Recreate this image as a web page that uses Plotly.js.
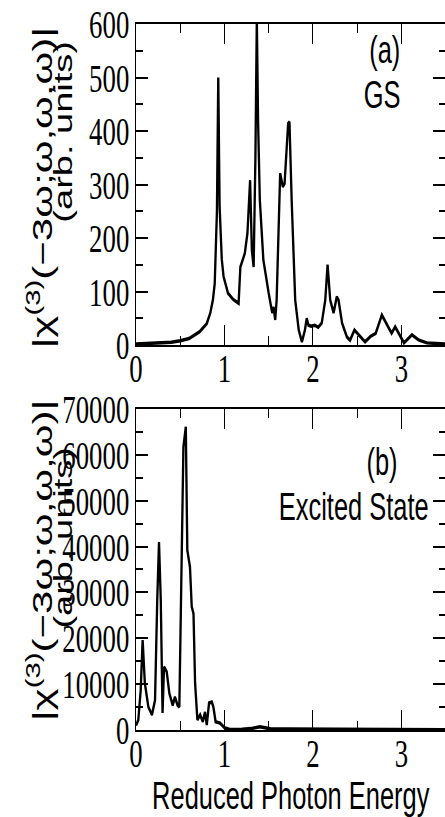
<!DOCTYPE html>
<html>
<head>
<meta charset="utf-8">
<script src="https://cdn.plot.ly/plotly-3.0.1.min.js"></script>
<style>
  html, body { margin: 0; padding: 0; background: #fff; width: 445px; height: 817px; overflow: hidden; }
  #wrap { width: 673px; height: 817px; transform: scaleX(0.67); transform-origin: 0 0; }
</style>
</head>
<body>
<div id="wrap"><div id="chart"></div></div>
<script>
// (a) Ground state
const xGS = [0, 0.2, 0.4, 0.5, 0.6, 0.72, 0.8, 0.84, 0.87, 0.89, 0.915, 0.93, 0.945, 0.97, 0.99, 1.04, 1.10, 1.16, 1.18, 1.23, 1.26, 1.29, 1.31, 1.33, 1.35, 1.366, 1.38, 1.40, 1.44, 1.50, 1.54, 1.555, 1.574, 1.59, 1.61, 1.63, 1.66, 1.68, 1.72, 1.735, 1.76, 1.80, 1.84, 1.876, 1.91, 1.93, 1.95, 1.98, 2.02, 2.06, 2.10, 2.14, 2.166, 2.196, 2.234, 2.27, 2.29, 2.33, 2.385, 2.42, 2.47, 2.52, 2.59, 2.65, 2.71, 2.78, 2.86, 2.89, 2.93, 2.97, 3.03, 3.12, 3.20, 3.29, 3.40, 3.5];
const yGS = [2, 3, 5, 8, 12, 25, 40, 60, 85, 115, 250, 500, 260, 160, 128, 97, 85, 78, 146, 171, 209, 308, 177, 146, 350, 610, 420, 271, 159, 97, 60, 71, 47, 84, 200, 321, 296, 302, 414, 417, 271, 84, 28, 6, 28, 50, 37, 35, 37, 33, 41, 84, 150, 84, 60, 90, 84, 41, 15, 9, 28, 19, 6, 16, 22, 56, 32, 22, 34, 22, 4, 19, 9, 4, 3, 2];

// (b) Excited state
const xEX = [0, 0.026, 0.053, 0.075, 0.10, 0.14, 0.18, 0.215, 0.24, 0.26, 0.28, 0.30, 0.317, 0.347, 0.377, 0.415, 0.44, 0.47, 0.49, 0.51, 0.536, 0.563, 0.58, 0.61, 0.63, 0.65, 0.668, 0.694, 0.725, 0.755, 0.78, 0.80, 0.826, 0.857, 0.875, 0.90, 0.95, 1.0, 1.06, 1.2, 1.3, 1.40, 1.52, 1.7, 2.0, 2.5, 3.0, 3.5];
const yEX = [1000, 2200, 8700, 19600, 10200, 5000, 3300, 6500, 28300, 41000, 28300, 3700, 13800, 12700, 8000, 5400, 7200, 5400, 5000, 28300, 61700, 66100, 39200, 35600, 26900, 25400, 10200, 2200, 3300, 1800, 3900, 1100, 5900, 6100, 5000, 1800, 1500, 500, 100, 150, 300, 700, 250, 200, 150, 80, 50, 30];

const xTickVals = [0, 1, 2, 3];
const yTitleLine1 = '|χ<sup>(3)</sup>(−3ω;ω,ω,ω)|';
const yTitleLine2 = '(arb. units)';
const xTitle = 'Reduced Photon Energy';

const serif = 'Liberation Serif';
const sans = 'Liberation Sans';

function xAxis(anchor, withTitle) {
  const a = {
    anchor: anchor, domain: [0, 1], range: [0, 3.5],
    tickmode: 'array', tickvals: xTickVals,
    ticks: 'inside', ticklen: 20, tickwidth: 1.5, tickcolor: '#000',
    ticklabelstandoff: -13,
    minor: { dtick: 0.5, tick0: 0, ticks: 'inside', ticklen: 9, tickwidth: 1.5, tickcolor: '#000' },
    showline: true, linewidth: 2, linecolor: '#000', mirror: 'ticks',
    showgrid: false, zeroline: false,
    tickfont: { family: serif, size: 40, color: '#000' }
  };
  if (withTitle) a.title = { text: xTitle, font: { family: sans, size: 38, color: '#000' }, standoff: 4 };
  return a;
}
function yAxis(anchor, domain, range, dtick) {
  return {
    anchor: anchor, domain: domain, range: range, dtick: dtick, tick0: 0, tickformat: 'd',
    ticks: 'inside', ticklen: 18, tickwidth: 2, tickcolor: '#000',
    minor: { dtick: dtick / 2, ticks: 'inside', ticklen: 10, tickwidth: 2, tickcolor: '#000' },
    showline: true, linewidth: 2, linecolor: '#000', mirror: 'ticks',
    showgrid: false, zeroline: false,
    tickfont: { family: serif, size: 40, color: '#000' }
  };
}

const traces = [
  { x: xGS, y: yGS, xaxis: 'x2', yaxis: 'y2', mode: 'lines', line: { color: '#000', width: 3.5 }, hoverinfo: 'skip' },
  { x: xEX, y: yEX, xaxis: 'x', yaxis: 'y', mode: 'lines', line: { color: '#000', width: 3.5 }, hoverinfo: 'skip' }
];

const ann = (text, x, y, size, angle) => ({
  text: text, x: x, y: y, xref: 'paper', yref: 'paper', xanchor: 'center', yanchor: 'middle',
  showarrow: false, textangle: angle || 0, font: { family: sans, size: size, color: '#000' }
});

const layout = {
  width: 673, height: 817,
  margin: { l: 203, r: 8, t: 24, b: 87 },
  paper_bgcolor: '#fff', plot_bgcolor: '#fff',
  font: { family: serif, size: 40, color: '#000' },
  showlegend: false,
  xaxis: xAxis('y', true),
  yaxis: yAxis('x', [0, 0.4547], [0, 70000], 10000),
  xaxis2: xAxis('y2', false),
  yaxis2: yAxis('x2', [0.5453, 1], [0, 600], 100),
  annotations: [
    ann('(a)', 0.804, 0.963, 38),
    ann('GS', 0.795, 0.900, 38),
    ann('(b)', 0.795, 0.380, 38),
    ann('Excited State', 0.704, 0.316, 38),
    ann(yTitleLine1, -0.310, 0.768, 42, -90),
    ann(yTitleLine2, -0.233, 0.848, 38, -90),
    ann(yTitleLine1, -0.310, 0.240, 42, -90),
    ann(yTitleLine2, -0.233, 0.273, 38, -90)
  ]
};

Plotly.newPlot('chart', traces, layout, { staticPlot: true, displayModeBar: false });
</script>
</body>
</html>
